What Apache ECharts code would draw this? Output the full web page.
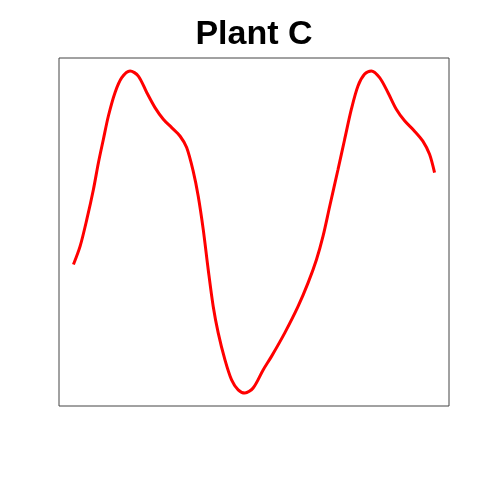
<!DOCTYPE html>
<html>
<head>
<meta charset="utf-8">
<script src="https://cdn.jsdelivr.net/npm/echarts@6/dist/echarts.min.js"></script>
<style>html,body{margin:0;padding:0;background:#fff}#c{width:480px;height:480px}</style>
</head>
<body>
<div id="c"></div>
<script>
var titleText = "Plant C";
var timeValues = [0,0.556,1.111,1.659,2.074,2.488,2.903,3.459,4.014,4.703,5.391,6.088,6.776,7.465,8.161,8.850,9.405,9.953,10.367,10.782,11.197,11.612,12.026,12.582,13.138,13.685,14.241,14.929,15.759,16.455,17.558,18.661,19.491,20.187,20.735,21.290,21.979,22.534,23.090,23.638,24.193,24.749,25.437,26.126,26.823,27.511,28.340,29.029,29.585,30];
var seriesValues = [39.9,45.6,53.9,63.2,71.5,78.8,86.0,93.3,97.9,100,98.4,93.3,88.6,85.0,82.4,79.8,76.2,68.8,61.1,50.8,38.3,26.9,18.7,10.4,4.1,1.0,0,1.6,7.2,11.4,18.7,26.9,34.2,41.4,48.7,58.0,69.4,78.8,88.1,95.3,99.0,100,97.9,93.3,88.1,84.5,81.3,78.2,74.1,68.4];

var data = timeValues.map(function(t, i){ return [t, seriesValues[i]]; });
var chart = echarts.init(document.getElementById('c'), null, {renderer: 'canvas'});
chart.setOption({
  animation: false,
  backgroundColor: '#fff',
  title: {
    text: titleText,
    left: 249,
    top: 13,
    textAlign: 'center',
    textStyle: {fontFamily: 'Liberation Sans', fontWeight: 'bold', fontSize: 34, color: '#000'}
  },
  grid: {left: 59, top: 58, width: 390, height: 348, show: true, borderColor: '#444', borderWidth: 1, backgroundColor: 'transparent'},
  xAxis: {type: 'value', min: -1.2, max: 31.2, show: false, splitLine: {show: false}},
  yAxis: {type: 'value', min: -4, max: 104, show: false, splitLine: {show: false}},
  series: [{
    type: 'line',
    data: data,
    smooth: 0.3,
    symbol: 'none',
    lineStyle: {color: '#ff0000', width: 3}
  }]
});
</script>
</body>
</html>
